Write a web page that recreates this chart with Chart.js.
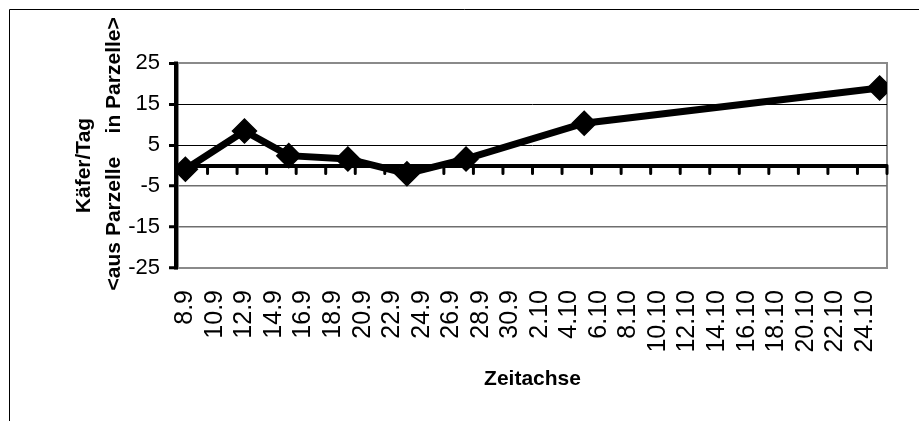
<!DOCTYPE html>
<html>
<head>
<meta charset="utf-8">
<script src="https://cdn.jsdelivr.net/npm/chart.js@4/dist/chart.umd.min.js"></script>
<style>
  html, body { margin: 0; padding: 0; background: #fff; }
  #wrap { width: 919px; height: 421px; }
</style>
</head>
<body>
<div id="wrap"><canvas id="c" width="919" height="421"></canvas></div>
<script>
// Beetle movement per day (positive = into the plot, negative = out of it)
const sampleDates = ['8.9', '12.9', '15.9', '19.9', '23.9', '27.9', '5.10', '25.10'];
const beetlesPerDay = [-0.9, 8.4, 2.4, 1.6, -2.0, 1.6, 10.3, 18.9];

// Axis labels: one every two days from 8 September to 24 October
const dateTickLabels = ['8.9', '10.9', '12.9', '14.9', '16.9', '18.9', '20.9', '22.9', '24.9', '26.9', '28.9', '30.9',
  '2.10', '4.10', '6.10', '8.10', '10.10', '12.10', '14.10', '16.10', '18.10', '20.10', '22.10', '24.10'];
const yTickValues = [-25, -15, -5, 0, 5, 15, 25];

const yAxisTitle = ['Käfer/Tag', '    <aus Parzelle    in Parzelle>'];
const xAxisTitle = 'Zeitachse';

// Day number counted from 8 September (day 0)
function dayOffset(label) {
  const [d, m] = label.split('.').map(Number);
  return m === 9 ? d - 8 : 22 + d;
}
const FIRST_DAY = dayOffset('8.9');
const LAST_DAY = dayOffset('25.10');

const FONT = "'Liberation Sans', Arial, Helvetica, sans-serif";

// Outer frame, plot border, value axis line and the tick marks hanging below the zero axis
const decorations = {
  id: 'decorations',
  beforeDraw(chart) {
    const ctx = chart.ctx;
    const a = chart.chartArea;
    ctx.save();
    ctx.fillStyle = '#fff';
    ctx.fillRect(0, 0, chart.width, chart.height);
    ctx.strokeStyle = '#000';
    ctx.lineWidth = 1;
    ctx.beginPath();
    ctx.moveTo(9.5, chart.height);
    ctx.lineTo(9.5, 9.5);
    ctx.lineTo(chart.width, 9.5);
    ctx.stroke();
    ctx.strokeStyle = '#8a8a8a';
    ctx.lineWidth = 2;
    ctx.strokeRect(a.left, a.top, a.right - a.left, a.bottom - a.top);
    ctx.restore();
  },
  beforeDatasetsDraw(chart) {
    const ctx = chart.ctx;
    const a = chart.chartArea;
    const xs = chart.scales.x, ys = chart.scales.y;
    const y0 = ys.getPixelForValue(0);
    ctx.save();
    ctx.strokeStyle = '#000';
    // value axis
    ctx.lineWidth = 4;
    ctx.beginPath();
    ctx.moveTo(a.left - 2, ys.getPixelForValue(25) - 1.5);
    ctx.lineTo(a.left - 2, ys.getPixelForValue(-25) + 1.5);
    ctx.stroke();
    // date ticks below the zero line
    ctx.lineWidth = 3;
    ctx.lineCap = 'round';
    ctx.beginPath();
    for (let d = FIRST_DAY; d <= LAST_DAY + 1; d += 2) {
      const px = xs.getPixelForValue(d - 0.5);
      ctx.moveTo(px, y0);
      ctx.lineTo(px, y0 + 8);
    }
    ctx.stroke();
    ctx.restore();
  }
};

new Chart(document.getElementById('c'), {
  type: 'line',
  data: {
    datasets: [{
      data: sampleDates.map((d, i) => ({ x: dayOffset(d), y: beetlesPerDay[i] })),
      borderColor: '#000',
      backgroundColor: '#000',
      borderWidth: 7,
      tension: 0,
      pointStyle: 'rectRot',
      pointRadius: 12,
      pointBorderWidth: 1.5,
      pointBackgroundColor: '#000',
      pointBorderColor: '#000'
    }]
  },
  options: {
    responsive: false,
    devicePixelRatio: 1,
    animation: false,
    events: [],
    layout: { padding: { top: 63, right: 32, bottom: 0, left: 0 } },
    plugins: { legend: { display: false }, tooltip: { enabled: false }, title: { display: false } },
    scales: {
      x: {
        type: 'linear',
        position: 'bottom',
        min: FIRST_DAY - 0.5,
        max: LAST_DAY + 0.5,
        afterBuildTicks(scale) {
          scale.ticks = dateTickLabels.map(l => ({ value: dayOffset(l) }));
        },
        afterFit(scale) { scale.height = 153; },
        grid: { display: false, drawTicks: false },
        border: { display: false },
        ticks: {
          autoSkip: false,
          maxRotation: 90,
          minRotation: 90,
          padding: 22,
          color: '#000',
          font: { family: FONT, size: 25 },
          callback(v) {
            const i = dateTickLabels.findIndex(l => dayOffset(l) === v);
            return i >= 0 ? dateTickLabels[i] : '';
          }
        },
        title: {
          display: true,
          text: xAxisTitle,
          color: '#000',
          font: { family: FONT, size: 21, weight: 'bold' },
          padding: { top: 0, bottom: 29 }
        }
      },
      y: {
        min: -25,
        max: 25,
        afterBuildTicks(scale) {
          scale.ticks = yTickValues.map(v => ({ value: v }));
        },
        afterFit(scale) { scale.width = 178; },
        border: { display: false },
        grid: {
          color(ctx) {
            const v = ctx.tick && ctx.tick.value;
            if (v === 25 || v === -25) return 'rgba(0,0,0,0)';
            if (v === 0) return '#000';
            return v < 0 ? '#6e6e6e' : '#000';
          },
          lineWidth(ctx) {
            const v = ctx.tick && ctx.tick.value;
            if (v === 0) return 4;
            return v < 0 ? 1.5 : 1;
          },
          tickLength: 9,
          tickWidth: 3,
          tickColor(ctx) {
            return ctx.tick && ctx.tick.value === 0 ? 'rgba(0,0,0,0)' : '#000';
          }
        },
        ticks: {
          padding: 9,
          color: '#000',
          font: { family: FONT, size: 22 },
          callback(v) { return v === 0 ? '' : String(v); }
        },
        title: {
          display: true,
          text: yAxisTitle,
          color: '#000',
          font: { family: FONT, size: 21, weight: 'bold', lineHeight: '30px' },
          padding: { top: 69, bottom: 0 }
        }
      }
    }
  },
  plugins: [decorations]
});
</script>
</body>
</html>
